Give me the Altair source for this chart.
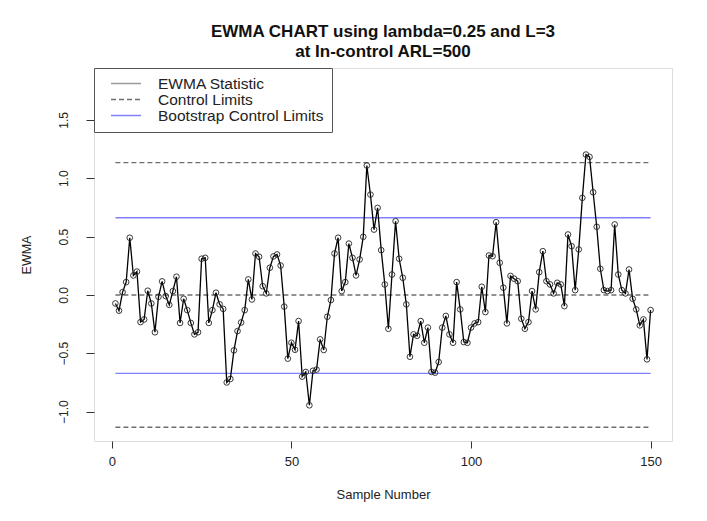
import altair as alt
import pandas as pd

# ---- data ----
ewma = [
    -0.073, -0.135, 0.024, 0.11, 0.49, 0.167, 0.2, -0.233, -0.21, 0.036,
    -0.073, -0.32, -0.016, 0.116, -0.01, -0.085, 0.033, 0.156, -0.24, -0.033,
    -0.13, -0.24, -0.338, -0.32, 0.31, 0.318, -0.24, -0.13, 0.019, -0.08,
    -0.12, -0.75, -0.72, -0.475, -0.31, -0.236, -0.13, 0.133, -0.039, 0.355,
    0.327, 0.075, 0.013, 0.233, 0.33, 0.347, 0.252, -0.1, -0.546, -0.41,
    -0.47, -0.224, -0.7, -0.66, -0.946, -0.65, -0.64, -0.381, -0.472, -0.187,
    -0.044, 0.355, 0.49, 0.033, 0.11, 0.44, 0.318, 0.167, 0.304, 0.498,
    1.109, 0.86, 0.56, 0.746, 0.384, 0.09, -0.29, 0.175, 0.632, 0.31,
    0.147, -0.081, -0.53, -0.338, -0.35, -0.224, -0.41, -0.28, -0.66, -0.666,
    -0.575, -0.28, -0.18, -0.338, -0.41, 0.11, -0.124, -0.404, -0.41, -0.28,
    -0.244, -0.233, 0.07, -0.147, 0.338, 0.332, 0.623, 0.276, 0.062, -0.244,
    0.163, 0.139, 0.118, -0.204, -0.29, -0.233, 0.033, -0.124, 0.195, 0.375,
    0.118, 0.09, 0.013, 0.104, 0.09, -0.096, 0.518, 0.418, 0.041, 0.39,
    0.832, 1.203, 1.183, 0.88, 0.584, 0.224, 0.041, 0.033, 0.041, 0.604,
    0.175, 0.041, 0.013, 0.218, -0.033, -0.124, -0.261, -0.21, -0.552, -0.13,
]
samples = list(range(1, len(ewma) + 1))

limit_values = [1.134, 0.0, -1.134, 0.661, -0.672]
limit_series = ["Control Limits", "Control Limits", "Control Limits",
                "Bootstrap Control Limits", "Bootstrap Control Limits"]

series_names = ["EWMA Statistic", "Control Limits", "Bootstrap Control Limits"]
series_colors = ["#9a9a9a", "#6e6e6e", "#8080ff"]
series_dash = [[1, 0], [5, 3], [1, 0]]

x_ticks = [0, 50, 100, 150]
y_ticks = [-1.0, -0.5, 0.0, 0.5, 1.0, 1.5]
x_domain = [-4.96, 155.96]
y_domain = [-1.252, 1.945]

title_lines = ["EWMA CHART using lambda=0.25 and L=3", "at In-control ARL=500"]

FONT = "Liberation Sans"

# ---- tables ----
df = pd.DataFrame({"Sample": samples, "EWMA": ewma})
lim = pd.DataFrame({
    "y": limit_values,
    "series": limit_series,
    "x1": [samples[0]] * len(limit_values),
    "x2": [samples[-1]] * len(limit_values),
})

xscale = alt.Scale(domain=x_domain, nice=False, zero=False)
yscale = alt.Scale(domain=y_domain, nice=False, zero=False)
cscale = alt.Scale(domain=series_names, range=series_colors)
dscale = alt.Scale(domain=series_names, range=series_dash)

legend = alt.Legend(
    title=None, orient="top-left", offset=0, padding=8,
    strokeColor="#555555", fillColor="white", cornerRadius=0,
    symbolType="stroke", symbolSize=900, symbolStrokeWidth=1.5,
    symbolOffset=8, clipHeight=15, rowPadding=0,
    labelFont=FONT, labelFontSize=15.5, labelColor="#222222", labelOffset=16,
    labelLimit=400,
)

xaxis = alt.Axis(
    values=x_ticks, format="d", title="Sample Number", grid=False, domain=False,
    tickSize=7, tickColor="#333333", labelPadding=7, labelFont=FONT,
    labelFontSize=13, labelColor="#222222", titleFont=FONT, titleFontSize=13,
    titleFontWeight="normal", titleColor="#222222", titleY=53,
    titleBaseline="middle",
)
yaxis = alt.Axis(
    values=y_ticks, format=".1f", title="EWMA", grid=False, domain=False,
    tickSize=8, tickColor="#333333", labelAngle=270, labelAlign="center",
    labelBaseline="middle", labelPadding=23, labelFont=FONT, labelFontSize=12,
    labelColor="#222222", titleFont=FONT, titleFontSize=12.5,
    titleFontWeight="normal", titleColor="#222222", titleX=-68,
    titleBaseline="middle",
)

rules = alt.Chart(lim).mark_rule(strokeWidth=1.4).encode(
    x=alt.X("x1:Q", scale=xscale, axis=xaxis),
    x2="x2:Q",
    y=alt.Y("y:Q", scale=yscale, axis=yaxis),
    color=alt.Color("series:N", scale=cscale, legend=legend),
    strokeDash=alt.StrokeDash("series:N", scale=dscale, legend=legend),
)

line = alt.Chart(df).mark_line(strokeWidth=1.3, color="#000000").encode(
    x=alt.X("Sample:Q", scale=xscale, axis=xaxis),
    y=alt.Y("EWMA:Q", scale=yscale, axis=yaxis),
)

points = alt.Chart(df).mark_point(
    shape="circle", filled=False, size=32, color="#222222", strokeWidth=0.9, opacity=1
).encode(
    x=alt.X("Sample:Q", scale=xscale, axis=xaxis),
    y=alt.Y("EWMA:Q", scale=yscale, axis=yaxis),
)

chart = alt.layer(rules, line, points).properties(
    width=578,
    height=373,
    title=alt.TitleParams(
        title_lines, font=FONT, fontSize=17, fontWeight="bold", color="#111111",
        anchor="middle", offset=7, lineHeight=20,
    ),
    autosize=alt.AutoSizeParams(type="none"),
    padding={"left": 86, "top": 60, "right": 20, "bottom": 72},
).configure_view(
    stroke="#555555", strokeWidth=1.2
).configure(background="white")

chart.save("out.html", embed_options={"renderer": "svg", "actions": False})
